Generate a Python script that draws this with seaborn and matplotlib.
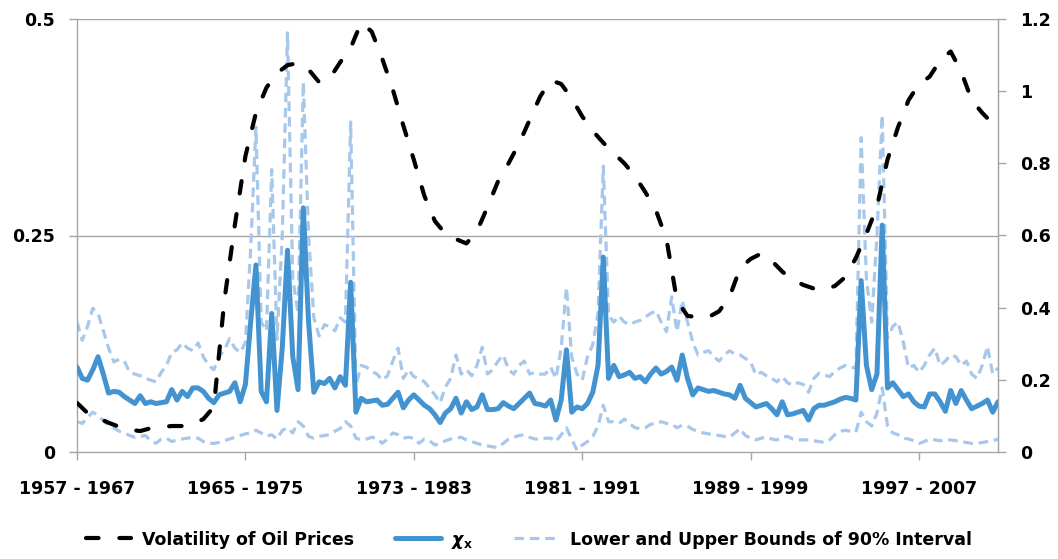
import numpy as np
import pandas as pd
import matplotlib
matplotlib.use("Agg")
import matplotlib.pyplot as plt
import seaborn as sns

# ---------------- data (quarterly rolling windows, index 0 = 1957-1967) ----------------
tick_labels = ["1957 - 1967", "1965 - 1975", "1973 - 1983", "1981 - 1991", "1989 - 1999", "1997 - 2007"]
tick_quarters = [0, 32, 64, 96, 128, 160]

chi_x = [
    0.098, 0.085, 0.083, 0.095, 0.110, 0.090, 0.068, 0.070, 0.069, 0.064,
    0.060, 0.056, 0.065, 0.056, 0.058, 0.056, 0.057, 0.058, 0.072, 0.060,
    0.070, 0.064, 0.074, 0.074, 0.070, 0.062, 0.057, 0.066, 0.068, 0.070,
    0.080, 0.058, 0.078, 0.150, 0.216, 0.070, 0.058, 0.160, 0.048, 0.120,
    0.233, 0.110, 0.072, 0.282, 0.150, 0.069, 0.081, 0.079, 0.085, 0.074,
    0.087, 0.077, 0.196, 0.046, 0.062, 0.058, 0.059, 0.060, 0.054, 0.055,
    0.062, 0.069, 0.051, 0.060, 0.066, 0.060, 0.054, 0.050, 0.043, 0.034,
    0.045, 0.050, 0.062, 0.045, 0.058, 0.049, 0.052, 0.066, 0.049, 0.049,
    0.050, 0.057, 0.053, 0.050, 0.056, 0.062, 0.068, 0.056, 0.055, 0.053,
    0.060, 0.037, 0.060, 0.118, 0.046, 0.052, 0.050, 0.056, 0.069, 0.100,
    0.225, 0.085, 0.100, 0.087, 0.089, 0.092, 0.085, 0.087, 0.081, 0.090,
    0.097, 0.090, 0.093, 0.098, 0.083, 0.112, 0.085, 0.066, 0.074, 0.072,
    0.070, 0.071, 0.069, 0.067, 0.066, 0.062, 0.077, 0.062, 0.057, 0.052,
    0.054, 0.056, 0.050, 0.043, 0.058, 0.043, 0.044, 0.046, 0.048, 0.037,
    0.050, 0.054, 0.054, 0.056, 0.058, 0.061, 0.063, 0.062, 0.060, 0.198,
    0.100, 0.072, 0.090, 0.262, 0.074, 0.080, 0.072, 0.064, 0.067, 0.058,
    0.053, 0.052, 0.067, 0.067, 0.058, 0.047, 0.071, 0.056, 0.071, 0.060,
    0.050, 0.053, 0.056, 0.060, 0.046, 0.058,
]

upper_bound = [
    0.150, 0.129, 0.145, 0.166, 0.160, 0.140, 0.120, 0.104, 0.107, 0.105,
    0.092, 0.090, 0.088, 0.085, 0.083, 0.081, 0.092, 0.100, 0.115, 0.118,
    0.126, 0.120, 0.117, 0.126, 0.110, 0.100, 0.095, 0.110, 0.118, 0.131,
    0.120, 0.115, 0.126, 0.235, 0.375, 0.150, 0.140, 0.326, 0.130, 0.250,
    0.484, 0.200, 0.160, 0.427, 0.250, 0.155, 0.134, 0.147, 0.145, 0.140,
    0.155, 0.150, 0.381, 0.077, 0.100, 0.098, 0.093, 0.090, 0.083, 0.088,
    0.105, 0.120, 0.085, 0.095, 0.087, 0.085, 0.081, 0.074, 0.066, 0.057,
    0.075, 0.085, 0.112, 0.090, 0.095, 0.088, 0.100, 0.121, 0.090, 0.095,
    0.105, 0.112, 0.095, 0.090, 0.100, 0.105, 0.090, 0.092, 0.090, 0.090,
    0.098, 0.085, 0.120, 0.190, 0.110, 0.090, 0.083, 0.110, 0.124, 0.160,
    0.330, 0.158, 0.150, 0.157, 0.150, 0.147, 0.150, 0.152, 0.156, 0.160,
    0.163, 0.150, 0.139, 0.179, 0.139, 0.175, 0.150, 0.127, 0.112, 0.115,
    0.117, 0.110, 0.105, 0.112, 0.117, 0.113, 0.112, 0.108, 0.104, 0.089,
    0.092, 0.088, 0.085, 0.081, 0.087, 0.080, 0.077, 0.080, 0.078, 0.069,
    0.085, 0.091, 0.089, 0.087, 0.093, 0.097, 0.100, 0.098, 0.097, 0.363,
    0.200, 0.150, 0.250, 0.389, 0.131, 0.145, 0.150, 0.127, 0.097, 0.100,
    0.092, 0.100, 0.112, 0.120, 0.100, 0.105, 0.112, 0.110, 0.100, 0.105,
    0.090, 0.085, 0.100, 0.122, 0.090, 0.097,
]

lower_bound = [
    0.035, 0.033, 0.040, 0.046, 0.042, 0.036, 0.031, 0.028, 0.024, 0.022,
    0.019, 0.017, 0.018, 0.019, 0.013, 0.010, 0.015, 0.016, 0.012, 0.014,
    0.015, 0.016, 0.017, 0.016, 0.012, 0.010, 0.010, 0.011, 0.013, 0.015,
    0.017, 0.019, 0.021, 0.022, 0.025, 0.022, 0.018, 0.020, 0.015, 0.025,
    0.028, 0.022, 0.035, 0.030, 0.018, 0.016, 0.018, 0.019, 0.020, 0.024,
    0.027, 0.035, 0.030, 0.016, 0.014, 0.015, 0.017, 0.016, 0.010, 0.015,
    0.022, 0.020, 0.016, 0.017, 0.016, 0.010, 0.015, 0.013, 0.008, 0.010,
    0.013, 0.015, 0.016, 0.017, 0.014, 0.012, 0.010, 0.008, 0.007, 0.006,
    0.005, 0.010, 0.015, 0.017, 0.019, 0.020, 0.017, 0.015, 0.015, 0.016,
    0.016, 0.012, 0.020, 0.028, 0.015, 0.002, 0.008, 0.012, 0.018, 0.030,
    0.054, 0.035, 0.035, 0.033, 0.038, 0.033, 0.028, 0.027, 0.028, 0.032,
    0.033, 0.035, 0.033, 0.032, 0.028, 0.031, 0.030, 0.026, 0.024, 0.022,
    0.021, 0.020, 0.019, 0.018, 0.017, 0.022, 0.027, 0.019, 0.016, 0.014,
    0.016, 0.017, 0.015, 0.014, 0.017, 0.018, 0.015, 0.014, 0.014, 0.014,
    0.013, 0.012, 0.011, 0.014, 0.020, 0.024, 0.025, 0.024, 0.023, 0.046,
    0.035, 0.030, 0.045, 0.074, 0.030, 0.022, 0.020, 0.016, 0.015, 0.013,
    0.010, 0.012, 0.015, 0.014, 0.013, 0.013, 0.014, 0.013, 0.012, 0.011,
    0.010, 0.010, 0.011, 0.012, 0.013, 0.015,
]

# volatility of oil prices (right axis), semi-annual readings
oil_volatility = [
    0.136, 0.108, 0.095, 0.081, 0.070, 0.062, 0.058, 0.066, 0.069, 0.072,
    0.072, 0.078, 0.091, 0.125, 0.420, 0.630, 0.820, 0.940, 1.010, 1.050,
    1.072, 1.078, 1.060, 1.025, 1.035, 1.080, 1.120, 1.190, 1.165, 1.090,
    1.005, 0.905, 0.810, 0.710, 0.640, 0.605, 0.590, 0.578, 0.612, 0.679,
    0.750, 0.800, 0.855, 0.920, 0.985, 1.030, 1.020, 0.980, 0.930, 0.890,
    0.857, 0.828, 0.800, 0.765, 0.720, 0.670, 0.590, 0.420, 0.377, 0.374,
    0.374, 0.390, 0.430, 0.510, 0.535, 0.550, 0.530, 0.500, 0.477, 0.463,
    0.453, 0.450, 0.460, 0.485, 0.538, 0.605, 0.680, 0.810, 0.900, 0.975,
    1.020, 1.040, 1.085, 1.110, 1.055, 0.975, 0.940, 0.910,
]

quarters = np.arange(len(chi_x))
vol_quarters = np.arange(0, 2 * len(oil_volatility), 2)

df = pd.DataFrame({"q": quarters, "chi": chi_x, "upper": upper_bound, "lower": lower_bound})
dfv = pd.DataFrame({"q": vol_quarters, "vol": oil_volatility})

# ---------------- styling ----------------
sns.set_style("white")
plt.rcParams["font.family"] = ["DejaVu Sans"]
plt.rcParams["font.weight"] = "bold"
plt.rcParams["mathtext.fontset"] = "dejavusans"
plt.rcParams["text.color"] = "black"
plt.rcParams["xtick.labelcolor"] = "black"
plt.rcParams["ytick.labelcolor"] = "black"

chi_color = "#4393D1"
band_color = "#A7C7EB"
grid_color = "#A6A6A6"
fs = 12.5

fig = plt.figure(figsize=(10.58, 5.59), dpi=100)
ax = fig.add_axes([77 / 1058, 1 - 452 / 559, (998 - 77) / 1058, (452 - 19) / 559])

sns.lineplot(data=df, x="q", y="upper", ax=ax, color=band_color, linewidth=2.3,
             label="Lower and Upper Bounds of 90% Interval", zorder=2)
ax.lines[-1].set_dashes((3.0, 1.8))
sns.lineplot(data=df, x="q", y="lower", ax=ax, color=band_color, linewidth=2.3,
             label="_nolegend_", zorder=2)
ax.lines[-1].set_dashes((3.0, 1.8))
sns.lineplot(data=df, x="q", y="chi", ax=ax, color=chi_color, linewidth=3.6,
             label=r"$\chi_\mathbf{x}$", zorder=3)

ax.set_xlim(0, len(chi_x) - 1)
ax.set_ylim(0, 0.5)
ax.set_yticks([0, 0.25, 0.5])
ax.set_yticklabels(["0", "0.25", "0.5"])
ax.set_xticks(tick_quarters)
ax.set_xticklabels(tick_labels)
ax.set_xlabel("")
ax.set_ylabel("")
ax.grid(False)
for y in [0.25, 0.5]:
    ax.axhline(y, color=grid_color, linewidth=1.0, zorder=1)

for side in ["left", "bottom", "right"]:
    ax.spines[side].set_color(grid_color)
    ax.spines[side].set_linewidth(1.0)
ax.spines["top"].set_visible(False)

ax.tick_params(axis="y", which="major", direction="out", length=6, width=1,
               color=grid_color, labelcolor="black", pad=10, labelsize=fs, left=True)
ax.tick_params(axis="x", which="major", direction="out", length=6, width=1,
               color=grid_color, labelcolor="black", pad=14, labelsize=fs, bottom=True)
for lab in ax.get_xticklabels() + ax.get_yticklabels():
    lab.set_fontweight("bold")

ax2 = ax.twinx()
sns.lineplot(data=dfv, x="q", y="vol", ax=ax2, color="black", linewidth=3.0,
             label="Volatility of Oil Prices", zorder=4)
vl = ax2.lines[-1]
vl.set_dashes((3.0, 5.0))
vl.set_dash_capstyle("round")
ax2.set_ylim(0, 1.2)
ax2.set_yticks([0, 0.2, 0.4, 0.6, 0.8, 1.0, 1.2])
ax2.set_yticklabels(["0", "0.2", "0.4", "0.6", "0.8", "1", "1.2"])
ax2.set_ylabel("")
ax2.set_xlim(0, len(chi_x) - 1)
for side in ["left", "bottom", "top"]:
    ax2.spines[side].set_visible(False)
ax2.spines["right"].set_color(grid_color)
ax2.tick_params(axis="y", direction="out", length=6, width=1, color=grid_color,
                labelcolor="black", pad=10, labelsize=fs, right=True)
for lab in ax2.get_yticklabels():
    lab.set_fontweight("bold")

# legend
h1, l1 = ax.get_legend_handles_labels()
h2, l2 = ax2.get_legend_handles_labels()
ax.get_legend().remove()
ax2.get_legend().remove()
handles = [h2[0], h1[1], h1[0]]
labels = [l2[0], l1[1], l1[0]]
leg = fig.legend(handles, labels, loc="center", bbox_to_anchor=(0.5, 0.033), ncol=3,
                 frameon=False, prop={"weight": "bold", "size": fs},
                 handlelength=2.6, columnspacing=2.4, handletextpad=0.6)
for t in leg.get_texts():
    t.set_color("black")

fig.savefig("out.png", dpi=100, facecolor="white")
